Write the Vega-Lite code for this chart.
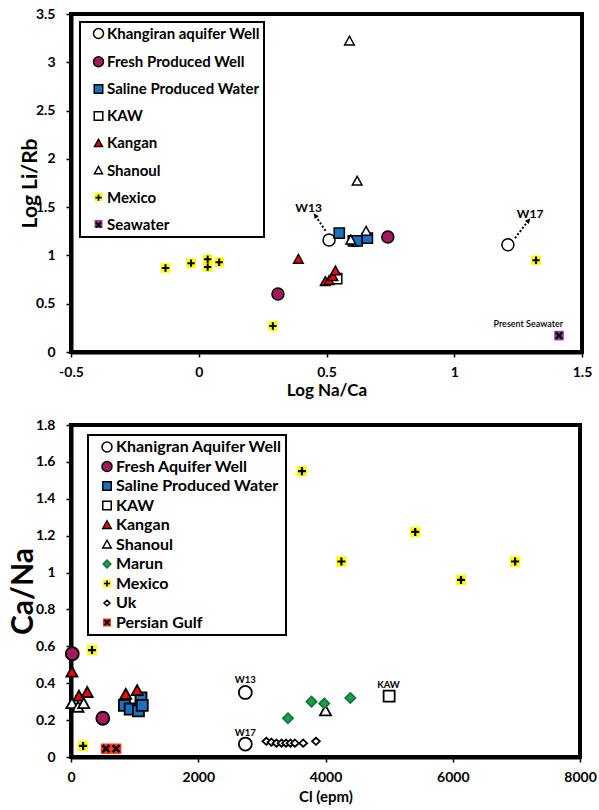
{
  "$schema": "https://vega.github.io/schema/vega-lite/v6.json",
  "background": "white",
  "padding": {"left": 6, "top": 5, "right": 0, "bottom": 0},
  "spacing": 16,
  "config": {
    "view": {"stroke": "black", "strokeWidth": 4},
    "axis": {"domainColor": "black", "domainWidth": 4, "tickColor": "black", "tickWidth": 1.5, "tickSize": 5, "grid": false, "labelFont": "Lato", "labelFontWeight": "bold", "labelFontSize": 14, "labelColor": "black", "titleFont": "Lato", "titleFontWeight": "bold", "titleColor": "black", "labelFlush": false, "labelOverlap": false},
    "legend": {"labelFont": "Lato", "labelFontWeight": "bold", "labelColor": "black", "symbolSize": 100, "strokeWidth": 2, "padding": 4, "symbolOffset": 7, "labelOffset": 1, "labelLimit": 300, "title": null},
    "text": {"font": "Lato", "color": "black"}
  },
  "datasets": {
    "top": [
      {"group": "Khangiran aquifer Well", "logNaCa": 0.51, "logLiRb": 1.16},
      {"group": "Khangiran aquifer Well", "logNaCa": 1.21, "logLiRb": 1.11},
      {"group": "Fresh Produced Well", "logNaCa": 0.74, "logLiRb": 1.19},
      {"group": "Fresh Produced Well", "logNaCa": 0.31, "logLiRb": 0.6},
      {"group": "Saline Produced Water", "logNaCa": 0.55, "logLiRb": 1.23},
      {"group": "Saline Produced Water", "logNaCa": 0.605, "logLiRb": 1.15},
      {"group": "Saline Produced Water", "logNaCa": 0.62, "logLiRb": 1.15},
      {"group": "Saline Produced Water", "logNaCa": 0.66, "logLiRb": 1.18},
      {"group": "KAW", "logNaCa": 0.54, "logLiRb": 0.76},
      {"group": "Kangan", "logNaCa": 0.39, "logLiRb": 0.96},
      {"group": "Kangan", "logNaCa": 0.495, "logLiRb": 0.73},
      {"group": "Kangan", "logNaCa": 0.51, "logLiRb": 0.74},
      {"group": "Kangan", "logNaCa": 0.525, "logLiRb": 0.78},
      {"group": "Kangan", "logNaCa": 0.535, "logLiRb": 0.84},
      {"group": "Shanoul", "logNaCa": 0.59, "logLiRb": 3.22},
      {"group": "Shanoul", "logNaCa": 0.62, "logLiRb": 1.77},
      {"group": "Shanoul", "logNaCa": 0.595, "logLiRb": 1.16},
      {"group": "Shanoul", "logNaCa": 0.655, "logLiRb": 1.25},
      {"group": "Mexico", "logNaCa": -0.13, "logLiRb": 0.87},
      {"group": "Mexico", "logNaCa": -0.03, "logLiRb": 0.92},
      {"group": "Mexico", "logNaCa": 0.035, "logLiRb": 0.96},
      {"group": "Mexico", "logNaCa": 0.035, "logLiRb": 0.88},
      {"group": "Mexico", "logNaCa": 0.08, "logLiRb": 0.93},
      {"group": "Mexico", "logNaCa": 0.29, "logLiRb": 0.27},
      {"group": "Mexico", "logNaCa": 1.32, "logLiRb": 0.95},
      {"group": "Seawater", "logNaCa": 1.41, "logLiRb": 0.17}
    ],
    "topArrows": [
      {"label": "W13", "logNaCa": 0.457, "logLiRb": 1.41, "logNaCa2": 0.5, "logLiRb2": 1.24},
      {"label": "W17", "logNaCa": 1.29, "logLiRb": 1.36, "logNaCa2": 1.235, "logLiRb2": 1.17}
    ],
    "topLabels": [
      {"label": "W13", "logNaCa": 0.43, "logLiRb": 1.49},
      {"label": "W17", "logNaCa": 1.297, "logLiRb": 1.43}
    ],
    "topNote": [
      {"label": "Present Seawater", "logNaCa": 1.29, "logLiRb": 0.29}
    ],
    "bottom": [
      {"group": "Khanigran Aquifer Well", "cl": 2740, "caNa": 0.35},
      {"group": "Khanigran Aquifer Well", "cl": 2740, "caNa": 0.07},
      {"group": "Fresh Aquifer Well", "cl": 20, "caNa": 0.56},
      {"group": "Fresh Aquifer Well", "cl": 500, "caNa": 0.21},
      {"group": "Saline Produced Water", "cl": 840, "caNa": 0.28},
      {"group": "Saline Produced Water", "cl": 930, "caNa": 0.26},
      {"group": "Saline Produced Water", "cl": 1060, "caNa": 0.25},
      {"group": "Saline Produced Water", "cl": 1100, "caNa": 0.32},
      {"group": "Saline Produced Water", "cl": 1120, "caNa": 0.28},
      {"group": "KAW", "cl": 5000, "caNa": 0.33},
      {"group": "Kangan", "cl": 15, "caNa": 0.46},
      {"group": "Kangan", "cl": 125, "caNa": 0.33},
      {"group": "Kangan", "cl": 255, "caNa": 0.35},
      {"group": "Kangan", "cl": 860, "caNa": 0.34},
      {"group": "Kangan", "cl": 1040, "caNa": 0.36},
      {"group": "Shanoul", "cl": 15, "caNa": 0.29},
      {"group": "Shanoul", "cl": 110, "caNa": 0.27},
      {"group": "Shanoul", "cl": 200, "caNa": 0.29},
      {"group": "Shanoul", "cl": 4000, "caNa": 0.25},
      {"group": "Marun", "cl": 3410, "caNa": 0.21},
      {"group": "Marun", "cl": 3780, "caNa": 0.3},
      {"group": "Marun", "cl": 3980, "caNa": 0.29},
      {"group": "Marun", "cl": 4390, "caNa": 0.32},
      {"group": "Mexico", "cl": 3630, "caNa": 1.55},
      {"group": "Mexico", "cl": 4250, "caNa": 1.06},
      {"group": "Mexico", "cl": 5410, "caNa": 1.22},
      {"group": "Mexico", "cl": 6130, "caNa": 0.96},
      {"group": "Mexico", "cl": 6980, "caNa": 1.06},
      {"group": "Mexico", "cl": 330, "caNa": 0.58},
      {"group": "Mexico", "cl": 190, "caNa": 0.06},
      {"group": "Uk", "cl": 3070, "caNa": 0.085},
      {"group": "Uk", "cl": 3150, "caNa": 0.08},
      {"group": "Uk", "cl": 3230, "caNa": 0.075},
      {"group": "Uk", "cl": 3310, "caNa": 0.075},
      {"group": "Uk", "cl": 3380, "caNa": 0.075},
      {"group": "Uk", "cl": 3450, "caNa": 0.075},
      {"group": "Uk", "cl": 3520, "caNa": 0.075},
      {"group": "Uk", "cl": 3650, "caNa": 0.075},
      {"group": "Uk", "cl": 3850, "caNa": 0.085},
      {"group": "Persian Gulf", "cl": 550, "caNa": 0.045},
      {"group": "Persian Gulf", "cl": 710, "caNa": 0.045}
    ],
    "bottomLabels": [
      {"label": "W13", "cl": 2740, "caNa": 0.42},
      {"label": "W17", "cl": 2740, "caNa": 0.13},
      {"label": "KAW", "cl": 4990, "caNa": 0.39}
    ]
  },
  "resolve": {"scale": {"color": "independent", "fill": "independent", "shape": "independent", "stroke": "independent"}},
  "vconcat": [
    {
      "width": 511,
      "height": 338,
      "encoding": {
        "x": {"field": "logNaCa", "type": "quantitative", "title": "Log Na/Ca", "scale": {"domain": [-0.5, 1.5], "nice": false, "zero": false}, "axis": {"values": [-0.5, 0, 0.5, 1, 1.5], "labelExpr": "'' + datum.value", "labelPadding": 8, "titlePadding": 3, "titleFontSize": 17}},
        "y": {"field": "logLiRb", "type": "quantitative", "title": "Log Li/Rb", "scale": {"domain": [0, 3.5], "nice": false, "zero": false}, "axis": {"values": [0, 0.5, 1, 1.5, 2, 2.5, 3, 3.5], "labelExpr": "'' + datum.value", "labelPadding": 11, "titlePadding": -5, "titleFontSize": 21}}
      },
      "layer": [
        {
          "data": {"name": "top"},
          "mark": {"type": "point", "filled": true, "size": 144, "strokeWidth": 0, "opacity": 1, "shape": "M-0.8,-0.8H0.8V0.8H-0.8Z"},
          "encoding": {
            "color": {"field": "group", "type": "nominal", "sort": ["Khangiran aquifer Well", "Fresh Produced Well", "Saline Produced Water", "KAW", "Kangan", "Shanoul", "Mexico", "Seawater"], "scale": {"range": ["transparent", "transparent", "transparent", "transparent", "transparent", "transparent", "#ffff00", "#9b3b9b"]}, "legend": {"orient": "none", "legendX": 9, "legendY": 8, "labelColor": "transparent", "labelFontSize": 15, "rowPadding": 11.2, "symbolType": "M-0.8,-0.8H0.8V0.8H-0.8Z", "symbolStrokeWidth": 0}}
          }
        },
        {
          "data": {"name": "top"},
          "mark": {"type": "point", "filled": true, "size": 144, "strokeWidth": 1.5, "opacity": 1},
          "encoding": {
            "shape": {"field": "group", "type": "nominal", "scale": {"domain": ["Khangiran aquifer Well", "Fresh Produced Well", "Saline Produced Water", "KAW", "Kangan", "Shanoul", "Mexico", "Seawater"], "range": ["circle", "circle", "M-0.85,-0.85H0.85V0.85H-0.85Z", "M-0.85,-0.85H0.85V0.85H-0.85Z", "M0,-0.8L0.8,0.65L-0.8,0.65Z", "M0,-0.8L0.8,0.65L-0.8,0.65Z", "M-0.17,-0.62H0.17V-0.17H0.62V0.17H0.17V0.62H-0.17V0.17H-0.62V-0.17H-0.17Z", "M0.39,-0.67L0.67,-0.39L0.28,0L0.67,0.39L0.39,0.67L0,0.28L-0.39,0.67L-0.67,0.39L-0.28,0L-0.67,-0.39L-0.39,-0.67L0,-0.28Z"]}, "legend": {"orient": "none", "legendX": 9, "legendY": 8, "strokeColor": "black", "labelFontSize": 15, "rowPadding": 11.2}},
            "fill": {"field": "group", "type": "nominal", "scale": {"domain": ["Khangiran aquifer Well", "Fresh Produced Well", "Saline Produced Water", "KAW", "Kangan", "Shanoul", "Mexico", "Seawater"], "range": ["white", "#a3195b", "#1f6fbf", "white", "#ff0000", "white", "black", "black"]}, "legend": {"orient": "none", "legendX": 9, "legendY": 8, "strokeColor": "black", "labelFontSize": 15, "rowPadding": 11.2}},
            "stroke": {"field": "group", "type": "nominal", "scale": {"domain": ["Khangiran aquifer Well", "Fresh Produced Well", "Saline Produced Water", "KAW", "Kangan", "Shanoul", "Mexico", "Seawater"], "range": ["black", "black", "black", "black", "black", "black", "transparent", "transparent"]}, "legend": {"orient": "none", "legendX": 9, "legendY": 8, "strokeColor": "black", "labelFontSize": 15, "rowPadding": 11.2}}
          }
        },
        {
          "data": {"name": "topArrows"},
          "mark": {"type": "rule", "strokeDash": [2, 2], "strokeWidth": 2, "color": "black"},
          "encoding": {"x2": {"field": "logNaCa2"}, "y2": {"field": "logLiRb2"}}
        },
        {
          "data": {"name": "topArrows"},
          "transform": [{"filter": "datum.label == 'W13'"}],
          "mark": {"type": "point", "filled": true, "color": "black", "size": 40, "angle": 326, "shape": "M0,-1L0.8,0.7L-0.8,0.7Z", "opacity": 1},
          "encoding": {}
        },
        {
          "data": {"name": "topArrows"},
          "transform": [{"filter": "datum.label == 'W17'"}],
          "mark": {"type": "point", "filled": true, "color": "black", "size": 40, "angle": 40, "shape": "M0,-1L0.8,0.7L-0.8,0.7Z", "opacity": 1},
          "encoding": {}
        },
        {
          "data": {"name": "topLabels"},
          "mark": {"type": "text", "fontWeight": "bold", "fontSize": 12, "font": "Lato"},
          "encoding": {"text": {"field": "label"}}
        },
        {
          "data": {"name": "topNote"},
          "mark": {"type": "text", "fontSize": 9, "font": "Lato", "fontWeight": 600},
          "encoding": {"text": {"field": "label"}}
        }
      ]
    },
    {
      "width": 509,
      "height": 332,
      "encoding": {
        "x": {"field": "cl", "type": "quantitative", "title": "Cl (epm)", "scale": {"domain": [0, 8000], "nice": false}, "axis": {"values": [0, 2000, 4000, 6000, 8000], "labelExpr": "'' + datum.value", "labelPadding": 8, "titlePadding": 5, "titleFontSize": 15}},
        "y": {"field": "caNa", "type": "quantitative", "title": "Ca/Na", "scale": {"domain": [0, 1.8], "nice": false}, "axis": {"values": [0, 0.2, 0.4, 0.6, 0.8, 1, 1.2, 1.4, 1.6, 1.8], "labelExpr": "'' + datum.value", "labelPadding": 11, "titlePadding": -3, "titleFontSize": 30}}
      },
      "layer": [
        {
          "data": {"name": "bottom"},
          "mark": {"type": "point", "filled": true, "size": 169, "strokeWidth": 0, "opacity": 1, "shape": "M-0.8,-0.8H0.8V0.8H-0.8Z"},
          "encoding": {
            "color": {"field": "group", "type": "nominal", "sort": ["Khanigran Aquifer Well", "Fresh Aquifer Well", "Saline Produced Water", "KAW", "Kangan", "Shanoul", "Marun", "Mexico", "Uk", "Persian Gulf"], "scale": {"range": ["transparent", "transparent", "transparent", "transparent", "transparent", "transparent", "transparent", "#ffff00", "transparent", "#ff3322"]}, "legend": {"orient": "none", "legendX": 17, "legendY": 10, "labelColor": "transparent", "labelFontSize": 16, "rowPadding": 3.5, "symbolType": "M-0.8,-0.8H0.8V0.8H-0.8Z", "symbolStrokeWidth": 0}}
          }
        },
        {
          "data": {"name": "bottom"},
          "mark": {"type": "point", "filled": true, "size": 169, "strokeWidth": 1.8, "opacity": 1},
          "encoding": {
            "shape": {"field": "group", "type": "nominal", "scale": {"domain": ["Khanigran Aquifer Well", "Fresh Aquifer Well", "Saline Produced Water", "KAW", "Kangan", "Shanoul", "Marun", "Mexico", "Uk", "Persian Gulf"], "range": ["circle", "circle", "M-0.85,-0.85H0.85V0.85H-0.85Z", "M-0.85,-0.85H0.85V0.85H-0.85Z", "M0,-0.85L0.85,0.7L-0.85,0.7Z", "M0,-0.85L0.85,0.7L-0.85,0.7Z", "M0,-0.78L0.78,0L0,0.78L-0.78,0Z", "M-0.17,-0.62H0.17V-0.17H0.62V0.17H0.17V0.62H-0.17V0.17H-0.62V-0.17H-0.17Z", "M0,-0.55L0.6,0L0,0.55L-0.6,0Z", "M0.39,-0.67L0.67,-0.39L0.28,0L0.67,0.39L0.39,0.67L0,0.28L-0.39,0.67L-0.67,0.39L-0.28,0L-0.67,-0.39L-0.39,-0.67L0,-0.28Z"]}, "legend": {"orient": "none", "legendX": 17, "legendY": 10, "strokeColor": "black", "labelFontSize": 16, "rowPadding": 3.5}},
            "fill": {"field": "group", "type": "nominal", "scale": {"domain": ["Khanigran Aquifer Well", "Fresh Aquifer Well", "Saline Produced Water", "KAW", "Kangan", "Shanoul", "Marun", "Mexico", "Uk", "Persian Gulf"], "range": ["white", "#a3195b", "#1f6fbf", "white", "#ff0000", "white", "#1e9e4a", "black", "white", "black"]}, "legend": {"orient": "none", "legendX": 17, "legendY": 10, "strokeColor": "black", "labelFontSize": 16, "rowPadding": 3.5}},
            "stroke": {"field": "group", "type": "nominal", "scale": {"domain": ["Khanigran Aquifer Well", "Fresh Aquifer Well", "Saline Produced Water", "KAW", "Kangan", "Shanoul", "Marun", "Mexico", "Uk", "Persian Gulf"], "range": ["black", "black", "black", "black", "black", "black", "#13753a", "transparent", "black", "transparent"]}, "legend": {"orient": "none", "legendX": 17, "legendY": 10, "strokeColor": "black", "labelFontSize": 16, "rowPadding": 3.5}}
          }
        },
        {
          "data": {"name": "bottomLabels"},
          "mark": {"type": "text", "fontWeight": "bold", "fontSize": 9.5, "font": "Lato"},
          "encoding": {"text": {"field": "label"}}
        }
      ]
    }
  ]
}
